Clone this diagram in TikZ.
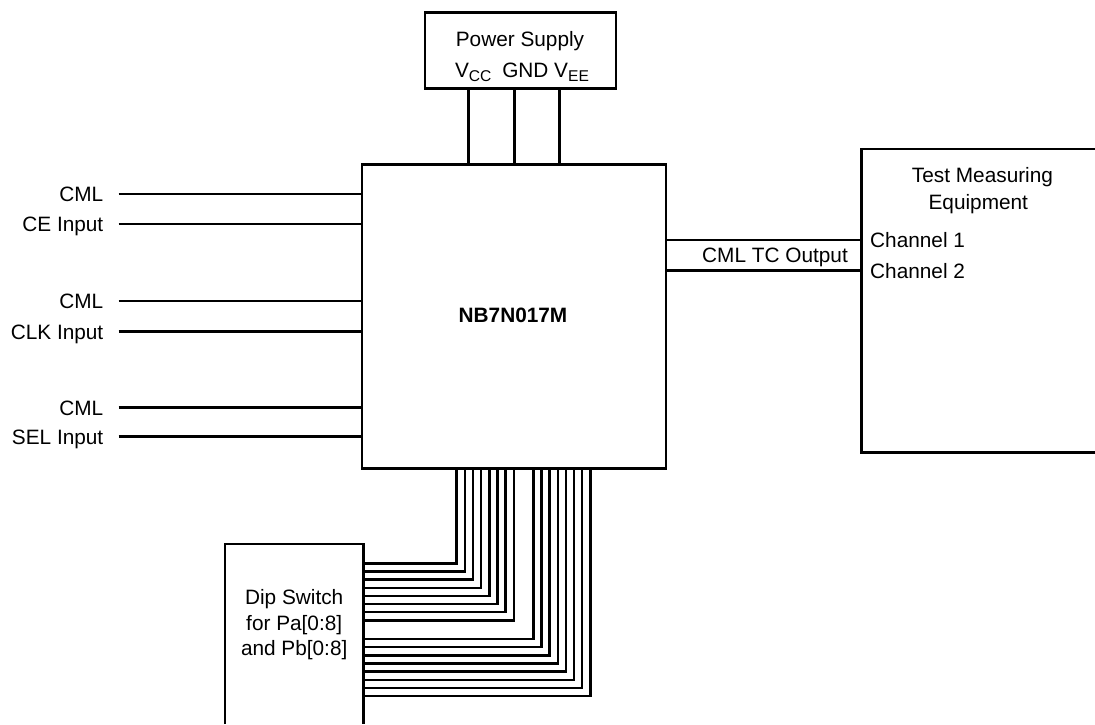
\documentclass[tikz,border=0pt]{standalone}
\usepackage{fontspec}
\setmainfont{Liberation Sans}
\usepackage{tikz}

\newcommand{\railsub}[1]{\raisebox{-3.5pt}{\fontsize{15.6}{16}\selectfont #1}}

\tikzset{
    wire/.style={line width=2.5pt},
    blk/.style={draw, line width=2.5pt, inner sep=0pt, outer sep=0pt},
    lbl/.style={font=\fontsize{20.8}{24}\selectfont, inner sep=0pt, text height=14.9pt, text depth=0pt},
}

\begin{document}
\begin{tikzpicture}[x=1pt, y=-1pt]
    \useasboundingbox (0, 0) rectangle (1095, 724);
    \node[blk, minimum width=303.7, minimum height=304] (chip) at (514, 316.3) {};
    \node[lbl, font=\fontsize{20.8}{24}\selectfont\bfseries] (chipname) at (513, 315) {NB7N017M};

    \node[blk, minimum width=191, minimum height=75.6] (psu) at (520.5, 50.5) {};
    \node[lbl] (psuname) at (520, 39) {Power Supply};
    \node[lbl] (rails) at (522, 70.3) {V\railsub{CC}\hspace{5pt} GND V\railsub{EE}};
    \foreach \x in {468.3, 514.3, 559.3}
        \draw[wire] (\x, 0 |- psu.south) -- (\x, 0 |- chip.north);

    % inputs
    \foreach \name/\txt/\y in {cml1/CML/194, ce/CE Input/224, cml2/CML/301,
                               clk/CLK Input/331.7, cml3/CML/407.7, sel/SEL Input/436.7} {
        \node[lbl, anchor=east] (\name) at (103.5, \y) {\txt};
        \draw[wire, shorten <=15pt] (\name.east) -- (\name.east -| chip.west);
    }

    % test equipment, cut off at the right
    \node[blk, draw=none, minimum width=233.3, minimum height=303.7] (tme) at (978.35, 300.85) {};
    \draw[wire] (tme.north east) -- (tme.north west) -- (tme.south west) -- (tme.south east);
    \node[lbl] (tmename) at (982.5, 175) {Test Measuring};
    \node[lbl] (tmename2) at (978.3, 201.7) {Equipment};
    \node[lbl, anchor=west] (ch1) at (870, 240) {Channel 1};
    \node[lbl, anchor=west] (ch2) at (870, 270.7) {Channel 2};
    \draw[wire] (chip.east |- ch1) -- (tme.west |- ch1);
    \draw[wire] (chip.east |- ch2) -- (tme.west |- ch2);
    \node[lbl, anchor=east] (outname) at (848, 255) {CML TC Output};

    % dip switch, cut off at the bottom
    \node[blk, draw=none, minimum width=138.3, minimum height=180] (dip) at (294.15, 634) {};
    \draw[wire] (dip.south west) -- (dip.north west) -- (dip.north east) -- (dip.south east);
    \node[align=center, inner sep=0pt, font=\fontsize{20.8}{25.7}\selectfont] (dipname) at (294.2, 624.7)
        {Dip Switch\\for Pa[0:8]\\and Pb[0:8]};
    \foreach \i in {0,...,7} {
        \draw[wire] (dip.east |- 0, 563.3+8.15*\i) -| (456.7+8.15*\i, 0 |- chip.south);
        \draw[wire] (dip.east |- 0, 639+8.15*\i) -| (533.3+8.15*\i, 0 |- chip.south);
    }
\end{tikzpicture}
\end{document}
